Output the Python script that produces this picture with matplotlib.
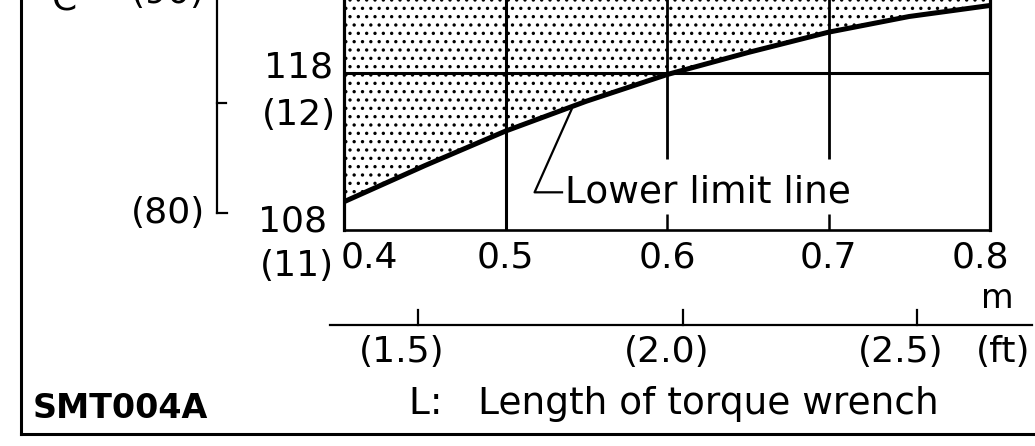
import matplotlib
matplotlib.use("Agg")
import matplotlib.pyplot as plt
import matplotlib.transforms as mtransforms

# ---------------- data ----------------
length_m = [0.40, 0.45, 0.50, 0.55, 0.60, 0.65, 0.70, 0.75, 0.80]
lower_limit_nm = [109.8, 112.1, 114.3, 116.2, 117.9, 119.3, 120.6, 121.6, 122.3]

x_ticks = [0.4, 0.5, 0.6, 0.7, 0.8]
x_tick_labels = ["0.4", "0.5", "0.6", "0.7", "0.8"]
ref_torque_nm = 118
ft_tick_pos_m = [0.446, 0.6096, 0.755]
ft_tick_labels = ["(1.5)", "(2.0)", "(2.5)"]
ftlb_tick_pos_nm = [109.1, 116.1, 123.1]
ftlb_tick_labels = ["(80)", "", "(90)"]

W, H = 1035, 446
fig = plt.figure(figsize=(W / 100, H / 100), dpi=100)
fig.patch.set_facecolor("white")
plt.rcParams["font.family"] = ["DejaVu Sans"]
plt.rcParams["hatch.linewidth"] = 1.2

# overlay in pixel coordinates (y downwards)
ov = fig.add_axes([0, 0, 1, 1])
ov.set_xlim(0, W)
ov.set_ylim(H, 0)
ov.axis("off")

# main axes: x 0.4..0.8 over px 344..990, y 108 at px 230, 15.7 px/unit
y0, y1 = 108, 125
ppu = 15.7
top_px = 230 - (y1 - y0) * ppu
ax = fig.add_axes([344 / W, 1 - 230 / H, (990 - 344) / W, (230 - top_px) / H])
ax.set_xlim(0.4, 0.8)
ax.set_ylim(y0, y1)
ax.set_facecolor("none")
ax.spines["top"].set_visible(False)
ax.spines["left"].set_linewidth(2.3)
ax.spines["right"].set_linewidth(2.3)
ax.spines["bottom"].set_linewidth(1.9)
ax.set_xticks([])
ax.set_yticks([])
ax.tick_params(left=False, labelleft=False, bottom=False, labelbottom=False)

# shaded region above the lower limit line
ax.fill_between(length_m, lower_limit_nm, y1, facecolor="none",
                edgecolor="black", hatch="..", linewidth=0, zorder=1)
# grid lines
ax.vlines(0.5, y0, y1, color="black", lw=2.2, zorder=2)
ax.vlines([0.6, 0.7], 112.5, y1, color="black", lw=2.0, zorder=2)
ax.vlines([0.6, 0.7], y0, 109.0, color="black", lw=1.8, zorder=2)
ax.hlines(ref_torque_nm, 0.4, 0.8, color="black", lw=2.2, zorder=2)
# lower limit line
ax.plot(length_m, lower_limit_nm, color="black", lw=3.6,
        solid_capstyle="butt", zorder=3)

# leader + label
ax.plot([0.541, 0.518, 0.535], [115.7, 110.4, 110.4], color="black", lw=1.6, zorder=3)
ax.text(0.537, 110.4, "Lower limit line", fontsize=27, ha="left", va="center",
        zorder=4)

# x tick labels (m)
blend_x = mtransforms.blended_transform_factory(ax.transData, ov.transData)
for xv, lab in zip(x_ticks, x_tick_labels):
    ha = "left" if xv == 0.4 else "center"
    xx = xv - 0.002 if xv == 0.4 else xv
    if xv == 0.8:
        xx = 0.794
    ov.text(xx, 257, lab, transform=blend_x, fontsize=26, ha=ha, va="center")
ov.text(997, 299, "m", fontsize=24, ha="center", va="center")

# y labels (N·m and kgf·m)
ov.text(333, 67, "118", fontsize=26, ha="right", va="center")
ov.text(336, 115, "(12)", fontsize=26, ha="right", va="center")
ov.text(327, 222, "108", fontsize=26, ha="right", va="center")
ov.text(334, 266, "(11)", fontsize=26, ha="right", va="center")

# ft scale below
ov.plot([330, 1032], [325, 325], color="black", lw=1.6)
for xv, lab in zip(ft_tick_pos_m, ft_tick_labels):
    ov.plot([xv, xv], [325, 310], color="black", lw=1.6, transform=blend_x)
    ov.text(xv - 0.01, 352, lab, transform=blend_x, fontsize=26,
            ha="center", va="center")
ov.text(1003, 352, "(ft)", fontsize=26, ha="center", va="center")

ov.text(674, 404, "L:   Length of torque wrench", fontsize=27,
        ha="center", va="center")

# ft-lb bracket on left
blend_y = mtransforms.blended_transform_factory(ov.transData, ax.transData)
ov.plot([217, 217], [ftlb_tick_pos_nm[0], y1], color="black", lw=1.6,
        transform=blend_y)
ov.plot([217, 227], [ftlb_tick_pos_nm[0]] * 2, color="black", lw=1.6,
        transform=blend_y)
ov.plot([217, 226], [ftlb_tick_pos_nm[1]] * 2, color="black", lw=1.6,
        transform=blend_y)
for yv, lab in zip(ftlb_tick_pos_nm, ftlb_tick_labels):
    if lab:
        ov.text(205, yv, lab, transform=blend_y, fontsize=26,
                ha="right", va="center")
ov.text(65, 10, "C", fontsize=26, ha="center", va="baseline")

# frame and figure code
ov.plot([21, 21], [0, 434], color="black", lw=2.2)
ov.plot([21, 1035], [434, 434], color="black", lw=2.2)
ov.text(33, 409, "SMT004A", fontsize=24, fontweight="bold", ha="left",
        va="center")

fig.savefig("out.png", dpi=100, facecolor="white")
